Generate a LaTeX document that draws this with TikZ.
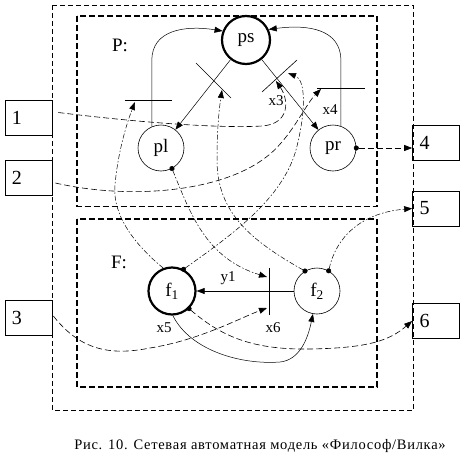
\documentclass[tikz,border=0pt]{standalone}
\usepackage{fontspec}
\setmainfont{Liberation Serif}
\usetikzlibrary{arrows.meta}
\tikzset{
  tri/.tip={Triangle[length=8pt,width=6pt]},
  dt/.tip={Circle[length=5pt]},
  state/.style={draw, circle, minimum size=46pt, inner sep=0pt, line width=0.6pt, font=\fontsize{19}{19}\selectfont},
  initstate/.style={state, minimum size=48pt, line width=2.2pt},
  extbox/.style={draw, rectangle, line width=0.7pt, minimum width=47pt, minimum height=35pt, inner sep=0pt, text width=33pt, align=left, font=\fontsize{20}{20}\selectfont},
  frameout/.style={line width=0.8pt, dash pattern=on 5pt off 3pt},
  framein/.style={line width=1.5pt, dash pattern=on 6pt off 3pt},
  arc/.style={line width=0.5pt, -tri},
  bar/.style={line width=0.6pt},
  link/.style={line width=0.6pt, dash pattern=on 6pt off 3pt, -tri},
  mix/.style={line width=0.5pt, dash pattern=on 5pt off 2pt on 1.5pt off 2pt, -tri},
  fromdot/.style={dt-tri, shorten <=-2.5pt},
  lbl/.style={font=\fontsize{15}{15}\selectfont, inner sep=0pt},
  big/.style={font=\fontsize{19}{19}\selectfont, inner sep=0pt}
}
\begin{document}
\begin{tikzpicture}[x=1pt,y=-1pt]
\useasboundingbox (0,0) rectangle (466,458);
\fill[white] (0,0) rectangle (466,458);

% frames
\draw[frameout] (52.5,5) rectangle (413,410.5);
\draw[framein] (77,16) rectangle (377,206.5);
\draw[framein] (77,219) rectangle (377,387);
\node[big] (lp) at (120,45) {P:};
\node[big] (lf) at (119,262) {F:};

% states
\node[initstate] (ps) at (246,40) {ps};
\node[state] (pl) at (161,148) {pl};
\node[state] (pr) at (333,148) {pr};
\node[initstate, minimum size=47pt] (f1) at (172,291) {f\textsubscript{1}};
\node[state] (f2) at (317,291) {f\textsubscript{2}};

% external boxes
\node[extbox] (b1) at (28.5,117.5) {1};
\node[extbox] (b2) at (28.5,177.5) {2};
\node[extbox] (b3) at (28.5,318) {3};
\node[extbox] (b4) at (436,142.5) {4};
\node[extbox] (b5) at (436,208.5) {5};
\node[extbox] (b6) at (436,321) {6};

% transition bars
\coordinate (t1a) at (125,100); \coordinate (t1b) at (172,100);
\coordinate (t2a) at (196,63);  \coordinate (t2b) at (231,98);
\coordinate (t3a) at (262,92);  \coordinate (t3b) at (297,60);
\coordinate (t4a) at (317,88);  \coordinate (t4b) at (365,88);
\coordinate (t5a) at (269,268); \coordinate (t5b) at (269,315);
\draw[bar] (t1a) -- (t1b);
\draw[bar] (t2a) -- (t2b);
\draw[bar] (t3a) -- (t3b);
\draw[bar] (t4a) -- (t4b);
\draw[bar] (t5a) -- (t5b);

% arrow targets on bars
\coordinate (e1) at (135,102);
\coordinate (e2) at (222,90);
\coordinate (e3) at (276,81);
\coordinate (e3b) at (288,73);
\coordinate (e4) at (321,89);
\coordinate (e5) at (267,277);
\coordinate (e6) at (267,308);

% solid arcs among P states
\draw[arc] (ps) -- (pl);
\draw[arc] (ps) -- (pr);
\draw[arc] (pl.113) -- ++(0,-66) .. controls (151.5,30) and (185,25) .. (ps.159);
\draw[arc] (pr.70) -- ++(0,-66) .. controls (340.5,30) and (310,24) .. (ps.25);

% F arcs
\draw[arc] (f2.west) -- (f1.east);
\draw[arc] (f1.-88) .. controls (190,350) and (240,365) .. (280,362) .. controls (300,360) and (308,338) .. (f2.-100);

% connectors from boxes
\draw[link] ([shift={(6,-5)}]b1.east) .. controls (160,125) and (230,128) .. (262,126) .. controls (290,124) and (289,100) .. (e3);
\draw[link] ([shift={(3,5.5)}]b2.east) .. controls (130,200) and (220,192) .. (265,158) .. controls (290,140) and (305,105) .. (e4);
\draw[link] ([shift={(1,-2)}]b3.east) .. controls (80,350) and (110,356) .. (150,348) .. controls (200,340) and (240,318) .. (e6);

% outputs
\draw[link, fromdot] (pr.east) -- (pr.east -| b4.west);
\draw[mix, fromdot] (f2.60) .. controls (336,238) and (360,213) .. (b5.west);
\draw[link, fromdot] (f1.-46) .. controls (220,335) and (250,350) .. (310,349) .. controls (370,348) and (390,340) .. (b6.west);

% crossing connectors between P and F
\draw[mix] (f1.111) .. controls (135,245) and (112,215) .. (115,185) .. controls (118,150) and (128,120) .. (e1);
\draw[mix, fromdot] (pl.-62) .. controls (190,212) and (205,258) .. (e5);
\draw[mix, fromdot] (f2.121) .. controls (250,240) and (217,212) .. (217,160) .. controls (217,130) and (219,110) .. (e2);
\draw[mix, fromdot] (f1.62) .. controls (230,236) and (282,200) .. (296,150) .. controls (306,112) and (306,80) .. (e3b);

% labels
\node[lbl] (lx3) at (276,101) {x3};
\node[lbl] (lx4) at (330,110) {x4};
\node[lbl] (ly1) at (228,278) {y1};
\node[lbl] (lx5) at (164,328) {x5};
\node[lbl] (lx6) at (273,328) {x6};

% caption
\node[font=\fontsize{14.5}{14.5}\selectfont\addfontfeature{LetterSpace=5}, inner sep=0pt] (cap) at (260,446) {Рис. 10. Сетевая автоматная модель «Философ/Вилка»};
\end{tikzpicture}
\end{document}
